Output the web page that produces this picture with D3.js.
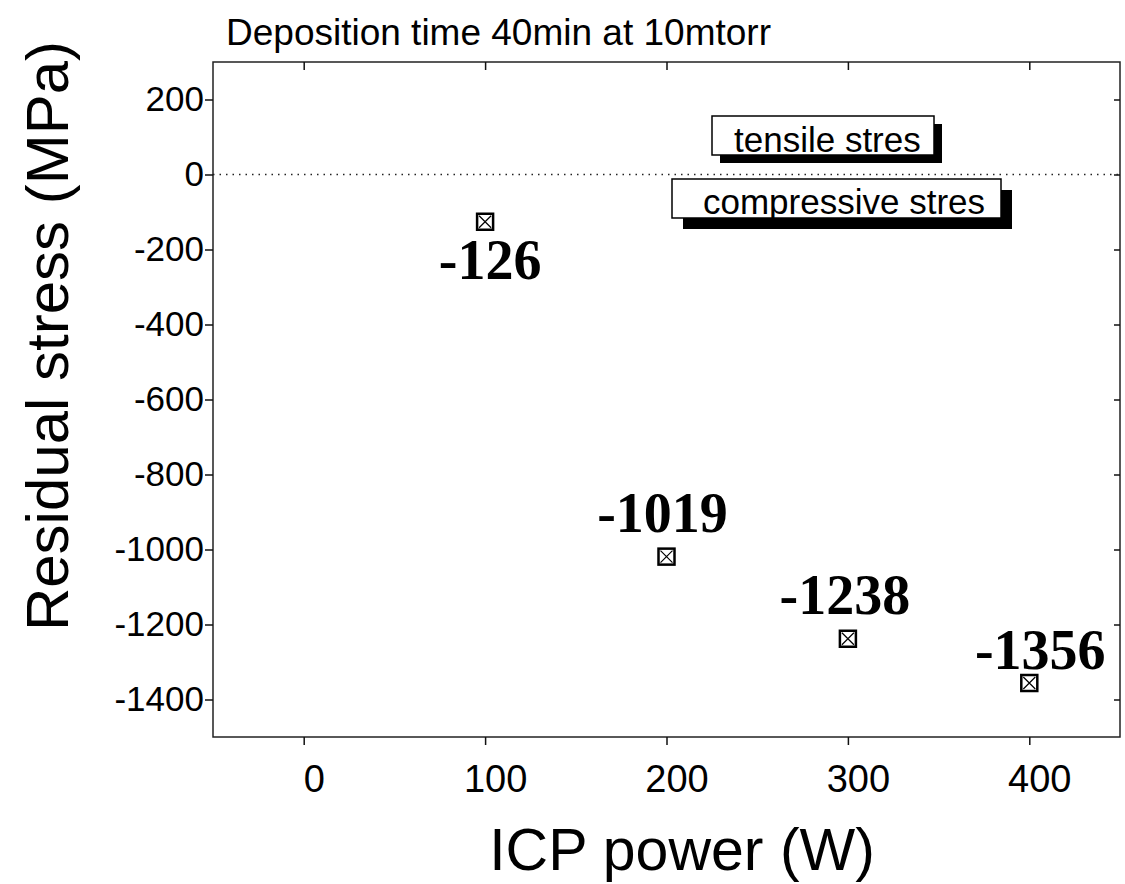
<!DOCTYPE html>
<html>
<head>
<meta charset="utf-8">
<script src="https://cdn.jsdelivr.net/npm/d3@7"></script>
<style>
  body { margin: 0; background: #fff; }
  .axis text { font-family: "Liberation Sans", Arial, sans-serif; fill: #000; }
  .axis path, .axis line { stroke: #111; stroke-width: 1.5px; }
</style>
</head>
<body>
<div id="chart"></div>
<script>
// data
var power = [100, 200, 300, 400];
var stress = [-126, -1019, -1238, -1356];
var stressLabels = ["-126", "-1019", "-1238", "-1356"];
var xTicks = [0, 100, 200, 300, 400];
var yTicks = [200, 0, -200, -400, -600, -800, -1000, -1200, -1400];

var margin = {top: 62, right: 5, bottom: 147, left: 213},
    width = 1125 - margin.left - margin.right,
    height = 884 - margin.top - margin.bottom;

var svg = d3.select("#chart").append("svg")
    .attr("width", 1125)
    .attr("height", 884)
  .append("g")
    .attr("transform", "translate(" + margin.left + "," + margin.top + ")");

var x = d3.scaleLinear().domain([-50, 450]).range([0, width]);
var y = d3.scaleLinear().domain([-1500, 300]).range([height, 0]);
var plain = function(d) { return String(d); };

// frame
svg.append("rect")
    .attr("width", width).attr("height", height)
    .attr("fill", "none")
    .attr("stroke", "#222")
    .attr("stroke-width", 1.5);

// bottom axis
var bx = svg.append("g")
    .attr("class", "axis")
    .attr("transform", "translate(0," + height + ")")
    .call(d3.axisBottom(x).tickValues(xTicks).tickSize(8).tickPadding(20).tickFormat(plain))
    .call(g => g.select(".domain").remove());
bx.selectAll("text")
    .attr("dx", 10)
    .style("font-size", "38px");

// top axis, ticks inward
svg.append("g")
    .attr("class", "axis")
    .call(d3.axisBottom(x).tickValues(xTicks).tickSize(8).tickFormat(""))
    .call(g => g.select(".domain").remove());

// left axis
svg.append("g")
    .attr("class", "axis")
    .call(d3.axisLeft(y).tickValues(yTicks).tickSize(8).tickPadding(1).tickFormat(plain))
    .call(g => g.select(".domain").remove())
  .selectAll("text")
    .style("font-size", "35px");

// right axis, ticks inward
svg.append("g")
    .attr("class", "axis")
    .attr("transform", "translate(" + width + ",0)")
    .call(d3.axisLeft(y).tickValues(yTicks).tickSize(6).tickFormat(""))
    .call(g => g.select(".domain").remove());

// zero line
svg.append("line")
    .attr("x1", 0).attr("x2", width)
    .attr("y1", y(0)).attr("y2", y(0))
    .attr("stroke", "#222")
    .attr("stroke-width", 1.6)
    .attr("stroke-dasharray", "1.5,5");

// annotation boxes with shadow
function noteBox(x0, y0, w, h, label, tx, ty, sh) {
  svg.append("rect")
      .attr("x", x0 + sh).attr("y", y0 + sh)
      .attr("width", w).attr("height", h)
      .attr("fill", "#000");
  svg.append("rect")
      .attr("x", x0).attr("y", y0)
      .attr("width", w).attr("height", h)
      .attr("fill", "#fff")
      .attr("stroke", "#000")
      .attr("stroke-width", 1.5);
  svg.append("text")
      .attr("x", x0 + tx).attr("y", y0 + ty)
      .style("font-family", "'Liberation Sans', Arial, sans-serif")
      .style("font-size", "35px")
      .text(label);
}
noteBox(712 - margin.left, 116 - margin.top, 222, 39, "tensile stres", 22, 36, 8);
noteBox(672 - margin.left, 179 - margin.top, 329, 39, "compressive stres", 31, 35, 11);

// markers
var pts = svg.selectAll(".pt")
    .data(power)
  .enter().append("g")
    .attr("transform", function(d, i) { return "translate(" + x(d) + "," + y(stress[i]) + ")"; });
pts.append("rect")
    .attr("x", -8).attr("y", -8).attr("width", 16).attr("height", 16)
    .attr("fill", "#fff").attr("stroke", "#000").attr("stroke-width", 2.5);
pts.append("path")
    .attr("d", "M-6,-6L6,6M6,-6L-6,6")
    .attr("stroke", "#000").attr("stroke-width", 1.2);

// value labels
var labelOffset = [[5, 57], [-4, -25], [-3, -25], [11, -14]];
svg.selectAll(".val")
    .data(power)
  .enter().append("text")
    .attr("x", function(d, i) { return x(d) + labelOffset[i][0]; })
    .attr("y", function(d, i) { return y(stress[i]) + labelOffset[i][1]; })
    .attr("text-anchor", "middle")
    .style("font-family", "'Liberation Serif', 'Times New Roman', serif")
    .style("font-weight", "bold")
    .style("font-size", "56px")
    .text(function(d, i) { return stressLabels[i]; });

// titles
svg.append("text")
    .attr("x", 226 - margin.left).attr("y", 45 - margin.top)
    .style("font-family", "'Liberation Sans', Arial, sans-serif")
    .style("font-size", "37px")
    .text("Deposition time 40min at 10mtorr");

svg.append("text")
    .attr("x", 682 - margin.left).attr("y", 870 - margin.top)
    .attr("text-anchor", "middle")
    .style("font-family", "'Liberation Sans', Arial, sans-serif")
    .style("font-size", "59px")
    .text("ICP power (W)");

svg.append("text")
    .attr("transform", "translate(" + (68 - margin.left) + "," + (336 - margin.top) + ") rotate(-90)")
    .attr("text-anchor", "middle")
    .style("font-family", "'Liberation Sans', Arial, sans-serif")
    .style("font-size", "60px")
    .text("Residual stress (MPa)");
</script>
</body>
</html>
